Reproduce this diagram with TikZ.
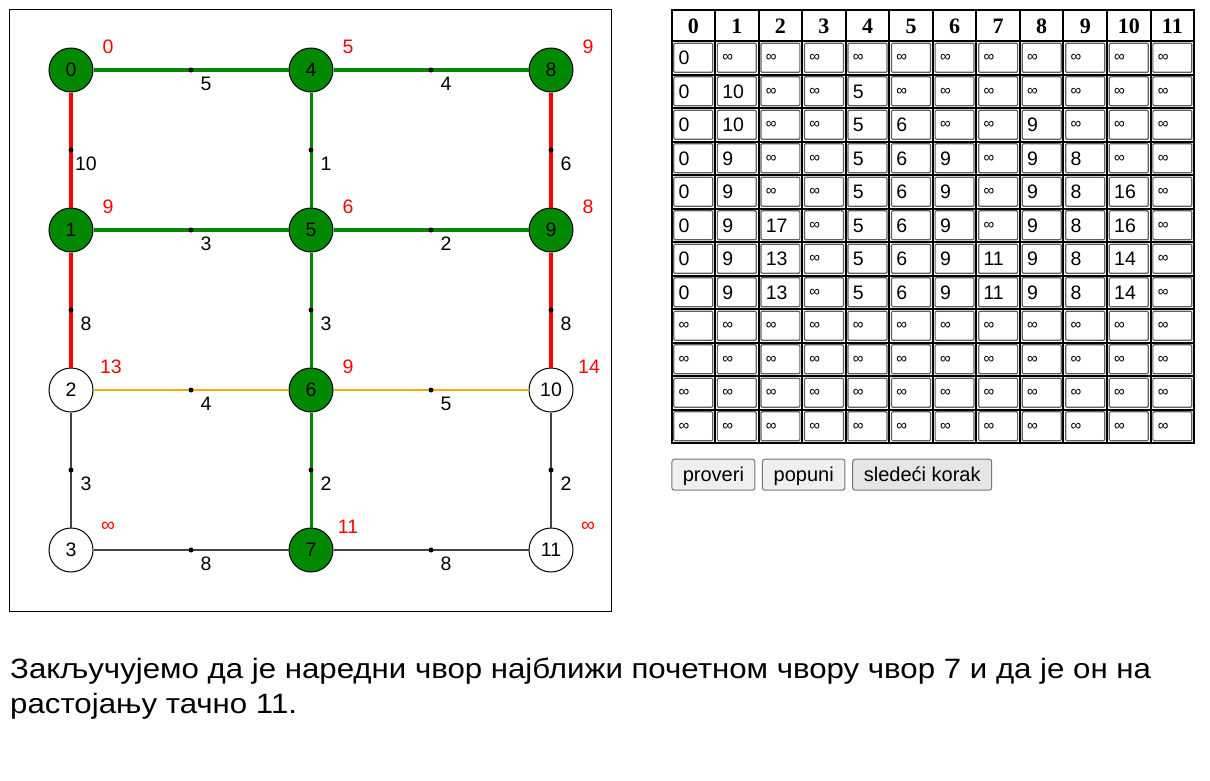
\documentclass[tikz,border=0pt]{standalone}
\usepackage{fontspec}
\setmainfont{Liberation Sans}
\newfontfamily\hdrfont{Liberation Serif}
\usetikzlibrary{calc}
\definecolor{gnode}{RGB}{0,136,0}
\definecolor{redE}{RGB}{255,0,0}
\definecolor{orangeE}{RGB}{255,170,0}
\definecolor{grayE}{RGB}{68,68,68}
\definecolor{btnfill}{RGB}{239,239,239}
\definecolor{btnhover}{RGB}{229,229,229}
\definecolor{btnline}{RGB}{118,118,118}
\definecolor{cellline}{RGB}{95,95,95}
\newcommand\infy{{\fontsize{15}{15}\selectfont ∞}}
\begin{document}
\begin{tikzpicture}[x=1pt,y=-1pt,
  vtx/.style={circle, draw=black, line width=1pt, minimum size=44pt, inner sep=0pt, font=\fontsize{19.5}{20}\selectfont},
  vtxDone/.style={vtx, fill=gnode},
  vtxOpen/.style={vtx, fill=white},
  wdot/.style={circle, fill=black, draw=none, inner sep=0pt, minimum size=5pt},
  wlab/.style={font=\fontsize{19.5}{20}\selectfont, text=black, inner sep=0pt, xshift=15pt, yshift=-14pt},
  dlab/.style={font=\fontsize{19.5}{20}\selectfont, text=redE, inner sep=0pt},
  edgeTree/.style={draw=gnode, line width=3.5pt},
  edgeRed/.style={draw=redE, line width=4pt},
  edgeOrange/.style={draw=orangeE, line width=2.5pt},
  edgeGray/.style={draw=grayE, line width=1.8pt},
  cellbox/.style={draw=cellline, line width=1.2pt, fill=white, rounded corners=1pt},
  celltext/.style={anchor=west, inner sep=0pt, font=\fontsize{19.5}{20}\selectfont},
  hdr/.style={inner sep=0pt, font=\hdrfont\bfseries\fontsize{22}{22}\selectfont},
  btn/.style={draw=btnline, fill=btnfill, line width=1pt, rounded corners=2.5pt, minimum height=31pt, inner sep=0pt, text height=18.1pt, text depth=4.2pt, font=\fontsize{20}{21}\selectfont},
  bottomtext/.style={anchor=base west, inner sep=0pt, font=\fontsize{28}{32}\selectfont}
]
\useasboundingbox (0,0) rectangle (1210,780);
\fill[white] (0,0) rectangle (1210,780);
% graph frame
\draw[line width=1pt] (9.5,9.5) rectangle (611.5,611.5);
% vertices
\node[vtxDone] (n0) at (71,70) {0};
\node[vtxDone] (n1) at (71,230) {1};
\node[vtxOpen] (n2) at (71,390) {2};
\node[vtxOpen] (n3) at (71,550) {3};
\node[vtxDone] (n4) at (311,70) {4};
\node[vtxDone] (n5) at (311,230) {5};
\node[vtxDone] (n6) at (311,390) {6};
\node[vtxDone] (n7) at (311,550) {7};
\node[vtxDone] (n8) at (551,70) {8};
\node[vtxDone] (n9) at (551,230) {9};
\node[vtxOpen] (n10) at (551,390) {10};
\node[vtxOpen] (n11) at (551,550) {11};
% edges
\draw[edgeTree] (n0) -- node[wdot]{} node[wlab]{5} (n4);
\draw[edgeTree] (n4) -- node[wdot]{} node[wlab]{4} (n8);
\draw[edgeRed] (n0) -- node[wdot]{} node[wlab]{10} (n1);
\draw[edgeTree, line width=3pt] (n4) -- node[wdot]{} node[wlab]{1} (n5);
\draw[edgeRed] (n8) -- node[wdot]{} node[wlab]{6} (n9);
\draw[edgeTree] (n1) -- node[wdot]{} node[wlab]{3} (n5);
\draw[edgeTree] (n5) -- node[wdot]{} node[wlab]{2} (n9);
\draw[edgeRed] (n1) -- node[wdot]{} node[wlab]{8} (n2);
\draw[edgeTree, line width=3pt] (n5) -- node[wdot]{} node[wlab]{3} (n6);
\draw[edgeRed] (n9) -- node[wdot]{} node[wlab]{8} (n10);
\draw[edgeOrange] (n2) -- node[wdot]{} node[wlab]{4} (n6);
\draw[edgeOrange] (n6) -- node[wdot]{} node[wlab]{5} (n10);
\draw[edgeGray] (n2) -- node[wdot]{} node[wlab]{3} (n3);
\draw[edgeTree, line width=3pt] (n6) -- node[wdot]{} node[wlab]{2} (n7);
\draw[edgeGray] (n10) -- node[wdot]{} node[wlab]{2} (n11);
\draw[edgeGray] (n3) -- node[wdot]{} node[wlab]{8} (n7);
\draw[edgeGray] (n7) -- node[wdot]{} node[wlab]{8} (n11);
% distance labels
\node[dlab] (d0) at ($(n0)+(37,-23)$) {0};
\node[dlab] (d1) at ($(n1)+(37,-23)$) {9};
\node[dlab] (d2) at ($(n2)+(40,-23)$) {13};
\node[dlab] (d3) at ($(n3)+(37,-23)$) {∞};
\node[dlab] (d4) at ($(n4)+(37,-23)$) {5};
\node[dlab] (d5) at ($(n5)+(37,-23)$) {6};
\node[dlab] (d6) at ($(n6)+(37,-23)$) {9};
\node[dlab] (d7) at ($(n7)+(37,-23)$) {11};
\node[dlab] (d8) at ($(n8)+(37,-23)$) {9};
\node[dlab] (d9) at ($(n9)+(37,-23)$) {8};
\node[dlab] (d10) at ($(n10)+(38,-23)$) {14};
\node[dlab] (d11) at ($(n11)+(37,-23)$) {∞};
% table
\foreach \rowvals [count=\r from 0] in {
{0,\infy,\infy,\infy,\infy,\infy,\infy,\infy,\infy,\infy,\infy,\infy},
{0,10,\infy,\infy,5,\infy,\infy,\infy,\infy,\infy,\infy,\infy},
{0,10,\infy,\infy,5,6,\infy,\infy,9,\infy,\infy,\infy},
{0,9,\infy,\infy,5,6,9,\infy,9,8,\infy,\infy},
{0,9,\infy,\infy,5,6,9,\infy,9,8,16,\infy},
{0,9,17,\infy,5,6,9,\infy,9,8,16,\infy},
{0,9,13,\infy,5,6,9,11,9,8,14,\infy},
{0,9,13,\infy,5,6,9,11,9,8,14,\infy},
{\infy,\infy,\infy,\infy,\infy,\infy,\infy,\infy,\infy,\infy,\infy,\infy},
{\infy,\infy,\infy,\infy,\infy,\infy,\infy,\infy,\infy,\infy,\infy,\infy},
{\infy,\infy,\infy,\infy,\infy,\infy,\infy,\infy,\infy,\infy,\infy,\infy},
{\infy,\infy,\infy,\infy,\infy,\infy,\infy,\infy,\infy,\infy,\infy,\infy}}{
  \foreach \v [count=\c from 0] in \rowvals {
    \pgfmathsetmacro\xl{671.5+43.55*\c}
    \pgfmathsetmacro\yt{41+33.5*\r}
    \draw[cellbox] (\xl+2.3,\yt+2.3) rectangle (\xl+41.25,\yt+31.2);
    \node[celltext] (c-\r-\c) at (\xl+7,\yt+16.9) {\v};
  }
}
\foreach \c in {0,...,11}{
  \node[hdr] (h-\c) at (671.5+43.55*\c+21.8,26) {\c};
}
\foreach \k in {0,...,12}{
  \draw[line width=2pt] (671.5,41+33.5*\k) -- (1194.1,41+33.5*\k);
  \draw[line width=2pt] (671.5+43.55*\k,10) -- (671.5+43.55*\k,443);
}
\draw[line width=2pt] (671.5,10) rectangle (1194.1,443);
% buttons
\node[btn, minimum width=83pt] (b1) at (713.4,474.7) {proveri};
\node[btn, minimum width=82.5pt] (b2) at (803.7,474.7) {popuni};
\node[btn, minimum width=139pt, fill=btnhover] (b3) at (922.2,474.7) {sledeći korak};
% bottom text
\node[bottomtext] (t1) at (10,678) {\scalebox{1.115}[1]{Закључујемо да је наредни чвор најближи почетном чвору чвор 7 и да је он на}};
\node[bottomtext] (t2) at (10,713) {\scalebox{1.115}[1]{растојању тачно 11.}};
\end{tikzpicture}
\end{document}
